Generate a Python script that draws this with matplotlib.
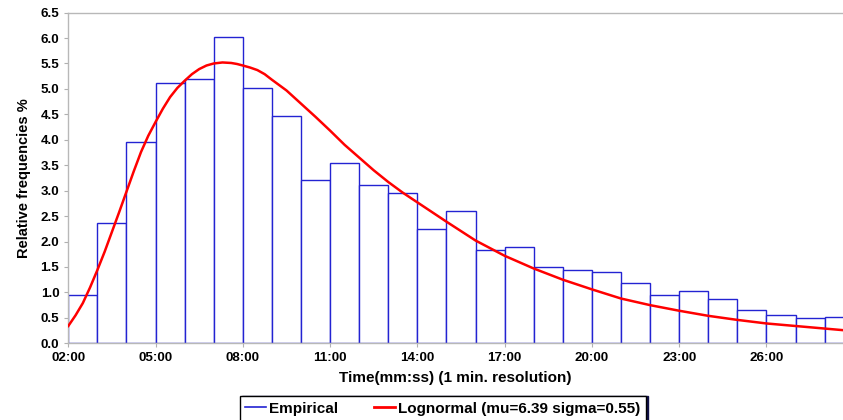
import matplotlib
matplotlib.use('Agg')
import matplotlib.pyplot as plt
from matplotlib.lines import Line2D

plt.rcParams['font.family'] = ['Liberation Sans', 'DejaVu Sans']
plt.rcParams['font.weight'] = 'bold'

# histogram: bin start (minutes) and relative frequency %
bin_start = list(range(2, 29))
freq = [0.95, 2.37, 3.95, 5.11, 5.19, 6.03, 5.01, 4.46, 3.20, 3.55, 3.11, 2.95, 2.24,
        2.60, 1.84, 1.89, 1.49, 1.45, 1.40, 1.18, 0.95, 1.03, 0.88, 0.66, 0.55, 0.49, 0.52]

# lognormal fit (minutes, %)
fit_t = [2.0, 2.25, 2.5, 2.75, 3.0, 3.25, 3.5, 3.75, 4.0, 4.25, 4.5, 4.75, 5.0, 5.25, 5.5,
         5.75, 6.0, 6.25, 6.5, 6.75, 7.0, 7.3, 7.6, 7.8, 8.0, 8.25, 8.5, 8.75,
         9.0, 9.5, 10.0, 10.5, 11.0, 11.5, 12.0, 12.5, 13.0, 13.5, 14.0, 14.5, 15.0,
         16.0, 17.0, 18.0, 19.0, 20.0, 21.0, 22.0, 23.0, 24.0, 25.0, 26.0, 27.0, 28.0, 28.6]
fit_v = [0.34, 0.55, 0.79, 1.10, 1.44, 1.80, 2.19, 2.58, 2.98, 3.38, 3.76, 4.08, 4.35, 4.61, 4.84,
         5.02, 5.16, 5.29, 5.39, 5.46, 5.50, 5.52, 5.51, 5.49, 5.46, 5.42, 5.37, 5.29,
         5.18, 4.97, 4.71, 4.45, 4.18, 3.90, 3.65, 3.40, 3.17, 2.96, 2.77, 2.58, 2.39,
         2.02, 1.72, 1.47, 1.25, 1.06, 0.88, 0.75, 0.64, 0.54, 0.46, 0.39, 0.34, 0.29, 0.26]

xticks = [2, 5, 8, 11, 14, 17, 20, 23, 26]
xtick_labels = ['02:00', '05:00', '08:00', '11:00', '14:00', '17:00', '20:00', '23:00', '26:00']
yticks = [i * 0.5 for i in range(14)]

fig = plt.figure(figsize=(8.43, 4.2), dpi=100)
ax = fig.add_axes([0.081, 0.1826, 0.919, 0.7874])

blue = '#2323d2'
ax.bar(bin_start, freq, width=1.0, align='edge', facecolor='white',
       edgecolor=blue, linewidth=1.0, zorder=2)
ax.plot(fit_t, fit_v, color='#ff0000', linewidth=1.8, zorder=3)

ax.set_xlim(2, 28.63)
ax.set_ylim(0, 6.5)
ax.set_xticks(xticks)
ax.set_xticklabels(xtick_labels)
ax.set_yticks(yticks)
ax.set_yticklabels([f'{v:.1f}' for v in yticks])
ax.tick_params(axis='both', labelsize=9.6, colors='#b0b0b0', length=3, width=0.8)
for lab in ax.get_xticklabels() + ax.get_yticklabels():
    lab.set_color('black')
    lab.set_fontweight('bold')

for s in ['left', 'bottom', 'top']:
    ax.spines[s].set_color('#b8b8b8')
    ax.spines[s].set_linewidth(1.0)
ax.spines['right'].set_visible(False)

ax.set_xlabel('Time(mm:ss) (1 min. resolution)', fontsize=11, fontweight='bold', labelpad=5)
ax.set_ylabel('Relative frequencies %', fontsize=10.5, fontweight='bold', labelpad=7)

handles = [Line2D([], [], color=blue, linewidth=1.2),
           Line2D([], [], color='#ff0000', linewidth=2)]
leg = fig.legend(handles, ['Empirical', 'Lognormal (mu=6.39 sigma=0.55)'],
                 loc='upper center', bbox_to_anchor=(0.525, 0.056), ncol=2, fontsize=11,
                 frameon=True, fancybox=False,
                 shadow={'ox': 2, 'oy': 0, 'color': '#101048', 'alpha': 1.0},
                 handlelength=1.4, handletextpad=0.2, columnspacing=2.3,
                 borderpad=0.35, borderaxespad=0)
leg.get_frame().set_edgecolor('black')
leg.get_frame().set_linewidth(1.0)
for t in leg.get_texts():
    t.set_fontweight('bold')

fig.savefig('out.png', dpi=100)
